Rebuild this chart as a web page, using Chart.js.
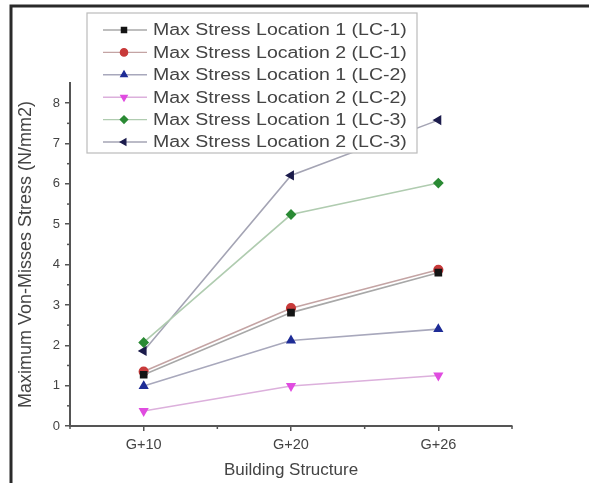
<!DOCTYPE html>
<html lang="en">
<head>
<meta charset="utf-8">
<script src="https://cdn.jsdelivr.net/npm/chart.js"></script>
<style>
  html, body { margin: 0; padding: 0; background: #fff; }
  .wrap { position: relative; width: 589px; height: 483px; }
</style>
</head>
<body>
<div class="wrap"><canvas id="stressChart" width="589" height="483"></canvas></div>
<script>
// values
const categories = ['G+10', 'G+20', 'G+26'];
const seriesNames = [
  'Max Stress Location 1 (LC-1)',
  'Max Stress Location 2 (LC-1)',
  'Max Stress Location 1 (LC-2)',
  'Max Stress Location 2 (LC-2)',
  'Max Stress Location 1 (LC-3)',
  'Max Stress Location 2 (LC-3)'
];
const loc1LC1 = [1.27, 2.81, 3.80];
const loc2LC1 = [1.35, 2.92, 3.87];
const loc1LC2 = [0.99, 2.12, 2.40];
const loc2LC2 = [0.37, 0.99, 1.25];
const loc1LC3 = [2.07, 5.24, 6.02];
const loc2LC3 = [1.86, 6.21, 7.58];
const yTicks = [0, 1, 2, 3, 4, 5, 6, 7, 8];

const seriesValues = [loc1LC1, loc2LC1, loc1LC2, loc2LC2, loc1LC3, loc2LC3];
const markerColors = ['#141414', '#c83a3a', '#1e2c96', '#e04ce0', '#2a8a34', '#1c1c4c'];
const lineColors = ['#a8a8a8', '#c4a4a4', '#a8a8bc', '#dcb0dc', '#b0ccb0', '#a4a4b4'];
const markerShapes = ['rect', 'circle', 'triangle', 'triangle', 'rectRot', 'triangle'];
const markerRotation = [0, 0, 0, 180, 0, 270];

const datasets = seriesValues.map((vals, i) => ({
  label: seriesNames[i],
  data: vals,
  borderColor: lineColors[i],
  borderWidth: 1.6,
  backgroundColor: markerColors[i],
  pointBackgroundColor: markerColors[i],
  pointBorderColor: markerColors[i],
  pointStyle: markerShapes[i],
  rotation: markerRotation[i],
  pointRadius: 4.3,
  tension: 0
}));

const axisColor = '#555';
const textColor = '#444';
const fontFamily = '"Liberation Sans", Arial, sans-serif';

// frame lines, minor ticks and the boxed legend
const extras = {
  id: 'extras',
  afterDraw(chart) {
    const ctx = chart.ctx;
    const x = chart.scales.x, y = chart.scales.y;
    ctx.save();
    ctx.strokeStyle = axisColor;
    ctx.lineWidth = 1.5;
    // minor y ticks at halves
    for (let v = 0.5; v < 8.5; v += 1) {
      const py = y.getPixelForValue(v);
      ctx.beginPath();
      ctx.moveTo(y.right - 3, py);
      ctx.lineTo(y.right, py);
      ctx.stroke();
    }
    // minor x ticks between categories and at axis ends
    const xs = [x.left, x.right];
    for (let i = 0; i < categories.length - 1; i++) {
      xs.push((x.getPixelForTick(i) + x.getPixelForTick(i + 1)) / 2);
    }
    xs.forEach(px => {
      ctx.beginPath();
      ctx.moveTo(px, x.top);
      ctx.lineTo(px, x.top + 3);
      ctx.stroke();
    });

    // page frame: top and left dark lines
    ctx.strokeStyle = '#2a2a2a';
    ctx.lineWidth = 3;
    ctx.beginPath();
    ctx.moveTo(589, 6);
    ctx.lineTo(11, 6);
    ctx.lineTo(11, 483);
    ctx.stroke();

    // legend box
    const bx = 87, by = 13, bw = 330, bh = 140;
    ctx.fillStyle = '#fff';
    ctx.fillRect(bx, by, bw, bh);
    ctx.strokeStyle = '#bbb';
    ctx.lineWidth = 1.2;
    ctx.strokeRect(bx, by, bw, bh);
    ctx.font = '16px ' + fontFamily;
    ctx.textBaseline = 'middle';
    chart.data.datasets.forEach((ds, i) => {
      const ry = 30 + i * 22.4;
      ctx.strokeStyle = ds.borderColor;
      ctx.lineWidth = 1.4;
      ctx.beginPath();
      ctx.moveTo(103, ry);
      ctx.lineTo(147, ry);
      ctx.stroke();
      ctx.fillStyle = ds.pointBackgroundColor;
      ctx.strokeStyle = ds.pointBorderColor;
      Chart.helpers.drawPoint(ctx, {
        pointStyle: ds.pointStyle, rotation: ds.rotation, radius: 3.6, borderWidth: 1
      }, 124, ry);
      // the source text is drawn a bit wide
      ctx.save();
      ctx.translate(153, ry + 1);
      ctx.scale(1.22, 1);
      ctx.fillStyle = textColor;
      ctx.fillText(ds.label, 0, 0);
      ctx.restore();
    });
    ctx.restore();
  }
};

new Chart(document.getElementById('stressChart'), {
  type: 'line',
  data: { labels: categories, datasets },
  options: {
    responsive: false,
    animation: false,
    layout: { padding: { left: 10, top: 83, right: 77, bottom: 0 } },
    plugins: { legend: { display: false }, tooltip: { enabled: false } },
    scales: {
      x: {
        offset: true,
        grid: { drawOnChartArea: false, tickLength: 5, color: axisColor, lineWidth: 1.5 },
        border: { color: axisColor, width: 2 },
        ticks: { color: textColor, font: { family: fontFamily, size: 14.5 }, padding: 5 },
        title: {
          display: true, text: 'Building Structure', color: textColor,
          font: { family: fontFamily, size: 17 }, padding: { top: 3, bottom: 2 }
        },
        afterFit(scale) { scale.height = 57; }
      },
      y: {
        min: 0, max: 8.5,
        afterBuildTicks(scale) { scale.ticks = yTicks.map(v => ({ value: v })); },
        grid: { drawOnChartArea: false, tickLength: 5, color: axisColor, lineWidth: 1.5 },
        border: { color: axisColor, width: 2 },
        ticks: { color: textColor, font: { family: fontFamily, size: 13 }, padding: 5 },
        title: {
          display: true, text: 'Maximum Von-Misses Stress (N/mm2)', color: textColor,
          font: { family: fontFamily, size: 18 }, padding: { top: 5, bottom: 0 }
        },
        afterFit(scale) { scale.width = 60; }
      }
    }
  },
  plugins: [extras]
});
</script>
</body>
</html>
